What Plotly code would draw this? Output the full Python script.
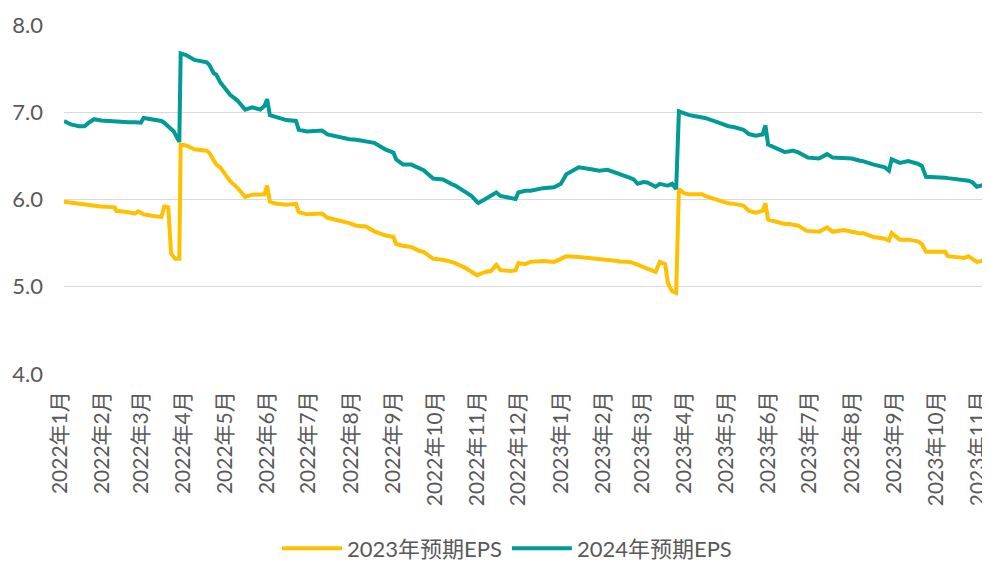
import plotly.graph_objects as go

dates = [
    "2022-01-01","2022-01-06","2022-01-12","2022-01-16","2022-01-19","2022-01-23","2022-01-28",
    "2022-02-07","2022-02-08","2022-02-14","2022-02-17","2022-02-22","2022-02-24","2022-02-26","2022-02-28",
    "2022-03-07","2022-03-13","2022-03-15","2022-03-18","2022-03-20","2022-03-22","2022-03-23","2022-03-25",
    "2022-03-26","2022-03-27","2022-03-31",
    "2022-04-06","2022-04-15","2022-04-17","2022-04-20","2022-04-22","2022-04-25","2022-04-28",
    "2022-05-01","2022-05-02","2022-05-07","2022-05-13","2022-05-18","2022-05-24","2022-05-27","2022-05-29","2022-05-31",
    "2022-06-05","2022-06-12","2022-06-19","2022-06-21","2022-06-27",
    "2022-07-08","2022-07-12","2022-07-23","2022-07-28",
    "2022-08-02","2022-08-09","2022-08-15","2022-08-23","2022-08-29","2022-08-31",
    "2022-09-05","2022-09-11","2022-09-17","2022-09-20","2022-09-27",
    "2022-10-04","2022-10-10","2022-10-13","2022-10-20","2022-10-25","2022-10-29","2022-10-30",
    "2022-11-04","2022-11-08","2022-11-12","2022-11-15","2022-11-23","2022-11-26","2022-11-28",
    "2022-12-03","2022-12-07","2022-12-16","2022-12-24","2022-12-29",
    "2023-01-02","2023-01-11","2023-01-19","2023-01-26",
    "2023-02-01","2023-02-05","2023-02-10","2023-02-17","2023-02-20","2023-02-23","2023-02-27",
    "2023-03-02","2023-03-08","2023-03-11","2023-03-15","2023-03-17","2023-03-20","2023-03-23","2023-03-25","2023-03-29",
    "2023-04-01","2023-04-06","2023-04-11","2023-04-13","2023-04-23","2023-04-30",
    "2023-05-04","2023-05-11","2023-05-15","2023-05-20","2023-05-25","2023-05-27","2023-05-29",
    "2023-06-03","2023-06-05","2023-06-10","2023-06-13","2023-06-16","2023-06-20","2023-06-26","2023-06-27",
    "2023-07-05","2023-07-11","2023-07-15","2023-07-23","2023-07-28","2023-07-29",
    "2023-08-04","2023-08-06","2023-08-14","2023-08-22","2023-08-25","2023-08-27",
    "2023-09-02","2023-09-08","2023-09-15","2023-09-18","2023-09-21",
    "2023-10-01","2023-10-05","2023-10-07","2023-10-11","2023-10-19","2023-10-22","2023-10-25","2023-10-28",
    "2023-11-03",
]

eps_2024 = [
    6.90,6.86,6.84,6.84,6.88,6.92,6.905,
    6.89,6.89,6.88,6.885,6.886,6.88,6.88,6.935,
    6.92,6.90,6.88,6.84,6.81,6.78,6.75,6.67,
    6.66,7.675,7.656,
    7.60,7.573,7.54,7.45,7.43,7.34,7.28,
    7.21,7.20,7.14,7.03,7.057,7.03,7.07,7.15,6.966,
    6.94,6.91,6.90,6.80,6.78,
    6.79,6.745,6.70,6.69,
    6.685,6.67,6.65,6.575,6.537,6.46,
    6.40,6.40,6.36,6.336,6.24,
    6.23,6.18,6.16,6.09,6.04,5.97,5.96,
    6.006,6.04,6.08,6.04,6.02,6.006,6.08,
    6.10,6.10,6.13,6.14,6.18,
    6.29,6.37,6.35,6.33,
    6.34,6.32,6.29,6.25,6.23,6.18,6.20,
    6.195,6.146,6.18,6.165,6.16,6.18,6.12,7.01,6.98,
    6.97,6.955,6.94,6.935,6.88,6.84,
    6.83,6.80,6.75,6.73,6.745,6.85,6.63,
    6.59,6.58,6.545,6.55,6.56,6.54,6.49,6.48,
    6.47,6.52,6.48,6.48,6.48,6.47,
    6.445,6.44,6.40,6.37,6.33,6.46,
    6.42,6.44,6.41,6.385,6.26,
    6.26,6.25,6.245,6.24,6.23,6.215,6.195,6.146,
    6.17,
]

eps_2023 = [
    5.975,5.965,5.955,5.94,5.935,5.93,5.92,
    5.91,5.87,5.86,5.85,5.84,5.865,5.845,5.83,
    5.81,5.80,5.92,5.91,5.38,5.33,5.32,5.32,
    5.32,6.63,6.62,
    6.575,6.56,6.53,6.44,6.40,6.366,6.29,
    6.23,6.21,6.14,6.03,6.055,6.055,6.06,6.16,5.975,
    5.95,5.94,5.95,5.855,5.83,
    5.84,5.79,5.75,5.73,
    5.70,5.69,5.635,5.59,5.57,5.49,
    5.47,5.455,5.41,5.40,5.32,
    5.31,5.285,5.27,5.22,5.17,5.13,5.14,
    5.17,5.18,5.25,5.19,5.18,5.19,5.27,
    5.26,5.285,5.296,5.285,5.32,
    5.35,5.34,5.33,5.32,
    5.31,5.30,5.29,5.285,5.27,5.25,5.22,
    5.21,5.17,5.285,5.26,5.04,4.95,4.93,6.12,6.07,
    6.06,6.06,6.06,6.04,5.987,5.956,
    5.95,5.93,5.87,5.85,5.87,5.956,5.77,
    5.75,5.74,5.72,5.72,5.71,5.70,5.64,5.64,
    5.63,5.68,5.63,5.65,5.64,5.63,
    5.61,5.615,5.57,5.55,5.53,5.615,
    5.54,5.54,5.52,5.49,5.40,
    5.405,5.40,5.35,5.345,5.33,5.35,5.31,5.285,
    5.30,
]

tick_dates = [
    "2022-01-01","2022-02-01","2022-03-01","2022-04-01","2022-05-01","2022-06-01",
    "2022-07-01","2022-08-01","2022-09-01","2022-10-01","2022-11-01","2022-12-01",
    "2023-01-01","2023-02-01","2023-03-01","2023-04-01","2023-05-01","2023-06-01",
    "2023-07-01","2023-08-01","2023-09-01","2023-10-01","2023-11-01",
]
tick_labels = [
    "2022年1月","2022年2月","2022年3月","2022年4月","2022年5月","2022年6月",
    "2022年7月","2022年8月","2022年9月","2022年10月","2022年11月","2022年12月",
    "2023年1月","2023年2月","2023年3月","2023年4月","2023年5月","2023年6月",
    "2023年7月","2023年8月","2023年9月","2023年10月","2023年11月",
]

FONT = "Lato, 'Noto Sans CJK SC', sans-serif"
TXT = "#595959"

fig = go.Figure()
fig.add_trace(go.Scatter(x=dates, y=eps_2023, mode="lines", name="2023年预期EPS",
                         line=dict(color="#FFC000", width=4)))
fig.add_trace(go.Scatter(x=dates, y=eps_2024, mode="lines", name="2024年预期EPS",
                         line=dict(color="#009B96", width=4)))

fig.update_layout(
    width=982, height=553,
    margin=dict(l=56, r=5, t=17, b=187, autoexpand=False),
    paper_bgcolor="white", plot_bgcolor="white",
    font=dict(family=FONT, size=22, color=TXT),
    showlegend=True,
    legend=dict(orientation="h", x=0.481, xanchor="center", y=-0.5, yanchor="middle",
                font=dict(family=FONT, size=22, color=TXT), itemwidth=60),
    xaxis=dict(type="date", range=["2022-01-01", "2023-11-03"],
               tickmode="array", tickvals=tick_dates, ticktext=tick_labels,
               tickangle=-90, showgrid=False, showline=False, zeroline=False,
               ticks="", ticklabelstandoff=12, ticklabelshift=-4, automargin=False,
               ticklabeloverflow="allow",
               tickfont=dict(family=FONT, size=21, color=TXT)),
    yaxis=dict(range=[4.0, 8.0], tickvals=[4, 5, 6, 7, 8], tickformat=".1f",
               showgrid=True, gridcolor="#D9D9D9", gridwidth=1, zeroline=False,
               showline=False, ticks="", ticklabelstandoff=20, automargin=False,
               tickfont=dict(family=FONT, size=22, color=TXT)),
)

fig.write_html("out.html")
